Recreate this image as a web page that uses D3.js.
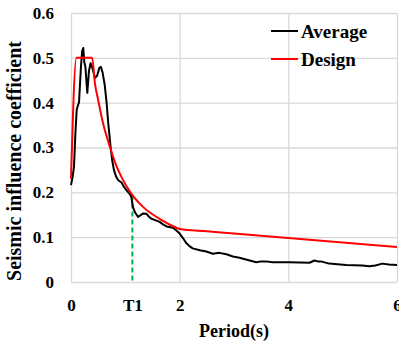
<!DOCTYPE html>
<html>
<head>
<meta charset="utf-8">
<script src="https://cdn.jsdelivr.net/npm/d3@7"></script>
<style>
  body { margin: 0; background: #fff; }
  #chart { width: 399px; height: 342px; }
</style>
</head>
<body>
<div id="chart"></div>
<script>
// values
const avgPeriod = [0, 0.03, 0.055, 0.08, 0.105, 0.13, 0.147, 0.165, 0.183, 0.205, 0.226, 0.245, 0.265,
  0.30, 0.33, 0.36, 0.40, 0.44, 0.48, 0.52, 0.55, 0.58, 0.62, 0.655, 0.685, 0.728, 0.76, 0.79,
  0.83, 0.87, 0.93, 0.97, 1.02, 1.07, 1.11, 1.14, 1.18, 1.235, 1.28, 1.33, 1.39, 1.44, 1.48,
  1.55, 1.63, 1.70, 1.76, 1.88, 1.94, 2.0, 2.06, 2.12, 2.18, 2.24, 2.37, 2.49, 2.61, 2.73,
  2.86, 2.98, 3.1, 3.22, 3.41, 3.5, 3.59, 3.71, 3.83, 4.02, 4.39, 4.48, 4.54, 4.6, 4.75,
  5.06, 5.36, 5.49, 5.6, 5.73, 5.85, 6.0];
const avgValue = [0.216, 0.235, 0.257, 0.33, 0.384, 0.395, 0.40, 0.44, 0.48, 0.515, 0.522, 0.49, 0.48,
  0.422, 0.47, 0.488, 0.475, 0.455, 0.46, 0.477, 0.48, 0.468, 0.44, 0.40, 0.355, 0.302, 0.27, 0.25,
  0.235, 0.227, 0.222, 0.213, 0.205, 0.198, 0.19, 0.167, 0.155, 0.145, 0.149, 0.153, 0.152, 0.145, 0.141,
  0.138, 0.134, 0.128, 0.124, 0.121, 0.115, 0.108, 0.098, 0.087, 0.080, 0.075, 0.071, 0.068, 0.063, 0.065,
  0.062, 0.057, 0.054, 0.050, 0.044, 0.046, 0.046, 0.044, 0.044, 0.044, 0.043, 0.048, 0.046, 0.046, 0.041,
  0.038, 0.037, 0.035, 0.037, 0.041, 0.039, 0.038];

const designPeriod = [0, 0.1, 0.39, 0.44, 0.5, 0.59, 0.72, 0.81, 0.93, 1.11, 1.33, 1.63, 1.94, 2.0,
  2.5, 3, 4, 5, 6];
const designValue = [0.23, 0.5, 0.5, 0.443, 0.406, 0.354, 0.3, 0.267, 0.234, 0.197, 0.167, 0.141, 0.121, 0.118,
  0.113, 0.108, 0.098, 0.088, 0.078];

const t1Period = 1.13, t1Value = 0.193;

const xTickValues = [0, t1Period, 2, 4, 6];
const xTickLabels = ["0", "T1", "2", "4", "6"];
const xGridValues = [0, 2, 4, 6];
const yTickValues = [0, 0.1, 0.2, 0.3, 0.4, 0.5, 0.6];

const margin = {top: 13, right: 2, bottom: 60, left: 71},
  width = 399 - margin.left - margin.right,
  height = 342 - margin.top - margin.bottom;

const font = "'Liberation Serif', 'Times New Roman', serif";

const svg = d3.select("#chart")
  .append("svg")
  .attr("width", 399)
  .attr("height", 342)
  .append("g")
  .attr("transform", `translate(${margin.left},${margin.top})`);

const x = d3.scaleLinear().domain([0, 6]).range([0, width]);
const y = d3.scaleLinear().domain([0, 0.6]).range([height, 0]);

// gridlines
svg.append("g")
  .attr("transform", `translate(0,${height})`)
  .call(d3.axisBottom(x).tickValues(xGridValues).tickSize(-height).tickFormat(""))
  .call(g => g.select(".domain").remove())
  .selectAll("line").attr("stroke", "#d9d9d9").attr("stroke-width", 1.3);

svg.append("g")
  .call(d3.axisLeft(y).tickValues(yTickValues).tickSize(-width).tickFormat(""))
  .call(g => g.select(".domain").remove())
  .selectAll("line").attr("stroke", "#d9d9d9").attr("stroke-width", 1.3);

// tick labels
svg.append("g")
  .attr("transform", `translate(0,${height})`)
  .call(d3.axisBottom(x).tickValues(xTickValues).tickSize(0).tickPadding(17)
    .tickFormat((d, i) => xTickLabels[i]))
  .call(g => g.select(".domain").remove())
  .style("font-family", font)
  .style("font-size", "17px")
  .style("font-weight", "bold")
  .style("color", "#000");

svg.append("g")
  .call(d3.axisLeft(y).tickValues(yTickValues).tickSize(0).tickPadding(17)
    .tickFormat(d => d === 0 ? "0" : d3.format(".1f")(d)))
  .call(g => g.select(".domain").remove())
  .style("font-family", font)
  .style("font-size", "17px")
  .style("font-weight", "bold")
  .style("color", "#000");

// axis titles
svg.append("text")
  .attr("transform", "rotate(-90)")
  .attr("x", -148)
  .attr("y", -margin.left + 21)
  .attr("text-anchor", "middle")
  .style("font-family", font)
  .style("font-size", "20px")
  .style("font-weight", "bold")
  .text("Seismic influence coefficient");

svg.append("text")
  .attr("x", 163)
  .attr("y", height + 55)
  .attr("text-anchor", "middle")
  .style("font-family", font)
  .style("font-size", "18px")
  .style("font-weight", "bold")
  .text("Period(s)");

const line = d3.line().x(d => x(d[0])).y(d => y(d[1]));

// T1 marker
svg.append("line")
  .attr("x1", x(t1Period)).attr("x2", x(t1Period))
  .attr("y1", y(t1Value)).attr("y2", y(0))
  .attr("stroke", "#00b050")
  .attr("stroke-width", 2)
  .attr("stroke-dasharray", "5,3");

svg.append("path")
  .datum(avgPeriod.map((t, i) => [t, avgValue[i]]))
  .attr("fill", "none")
  .attr("stroke", "#000")
  .attr("stroke-width", 2)
  .attr("stroke-linejoin", "round")
  .attr("d", line);

svg.append("path")
  .datum(designPeriod.map((t, i) => [t, designValue[i]]))
  .attr("fill", "none")
  .attr("stroke", "#ff0000")
  .attr("stroke-width", 2)
  .attr("stroke-linejoin", "round")
  .attr("d", d3.line().x(d => x(d[0])).y(d => y(d[1])).curve(d3.curveMonotoneX));

// legend
const legend = svg.append("g").attr("transform", `translate(${271 - margin.left},${31 - margin.top})`);
[["Average", "#000"], ["Design", "#ff0000"]].forEach(([name, color], i) => {
  const row = legend.append("g").attr("transform", `translate(0,${i * 28})`);
  row.append("line")
    .attr("x1", 0).attr("x2", 27)
    .attr("stroke", color).attr("stroke-width", 2);
  row.append("text")
    .attr("x", 30).attr("y", 7)
    .style("font-family", font)
    .style("font-size", "19px")
    .style("font-weight", "bold")
    .text(name);
});
</script>
</body>
</html>
